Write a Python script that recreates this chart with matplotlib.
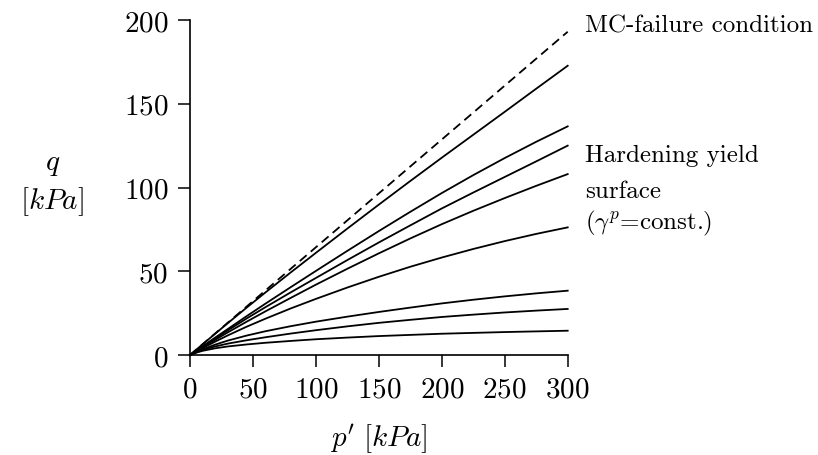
import matplotlib
matplotlib.use("Agg")
import matplotlib.pyplot as plt

plt.rcParams["font.family"] = ["cmr10", "DejaVu Sans"]
plt.rcParams["mathtext.fontset"] = "cm"
plt.rcParams["axes.unicode_minus"] = False
plt.rcParams["axes.formatter.use_mathtext"] = True

p_vals = [0, 5, 10, 20, 30, 45, 60, 80, 100, 125, 150, 175, 200, 225, 250, 275, 300]

# hardening yield surfaces, top to bottom (q in kPa)
q_curves = [
    [0, 3.2, 6.4, 12.7, 19.0, 28.3, 37.4, 49.3, 61.0, 75.5, 89.8, 103.9, 117.8, 131.5, 145.2, 159.0, 172.7],
    [0, 2.6, 5.2, 10.4, 15.5, 23.2, 30.7, 40.5, 50.2, 62.2, 74.0, 85.5, 96.7, 107.4, 117.6, 127.3, 136.5],
    [0, 2.5, 5.0, 9.9, 14.7, 21.8, 28.6, 37.4, 46.0, 56.7, 67.2, 77.4, 87.5, 97.0, 106.3, 115.6, 125.0],
    [0, 2.3, 4.6, 9.1, 13.5, 19.9, 26.1, 34.1, 42.0, 51.5, 60.7, 69.6, 78.1, 86.1, 93.7, 101.0, 108.0],
    [0, 2.1, 4.1, 8.0, 11.7, 16.9, 21.7, 27.8, 33.5, 40.3, 46.7, 52.7, 58.2, 63.3, 68.0, 72.3, 76.2],
    [0, 1.8, 3.4, 6.2, 8.6, 11.6, 14.2, 17.2, 19.9, 22.9, 25.7, 28.3, 30.8, 33.0, 35.0, 36.8, 38.4],
    [0, 1.6, 3.0, 5.1, 6.8, 8.8, 10.6, 12.8, 14.8, 17.1, 19.2, 21.0, 22.7, 24.1, 25.4, 26.5, 27.5],
    [0, 1.4, 2.5, 4.0, 5.1, 6.3, 7.3, 8.4, 9.4, 10.4, 11.3, 12.0, 12.7, 13.2, 13.7, 14.1, 14.5],
]

# Mohr-Coulomb failure line
p_mc = [0, 300]
q_mc = [0, 193]

fig = plt.figure(figsize=(8.18, 4.56), dpi=100)
ax = fig.add_axes([0.2323, 0.2193, 0.4617, 0.7346])

ax.plot(p_mc, q_mc, color="black", lw=1.3, dashes=(5, 3), clip_on=False)
for q in q_curves:
    ax.plot(p_vals, q, color="black", lw=1.3, clip_on=False)

ax.set_xlim(0, 300)
ax.set_ylim(0, 200)
ax.set_xticks([0, 50, 100, 150, 200, 250, 300])
ax.set_yticks([0, 50, 100, 150, 200])

for s in ["top", "right"]:
    ax.spines[s].set_visible(False)
for s in ["left", "bottom"]:
    ax.spines[s].set_linewidth(1.2)
ax.tick_params(direction="out", length=8.5, width=1.1, labelsize=21, pad=7)

ax.set_xlabel(r"$p'\ [kPa]$", fontsize=21, va="center")
ax.xaxis.set_label_coords(0.5, -0.248)
ax.set_ylabel("$q$\n$[kPa]$", fontsize=21, rotation=0, va="center", ha="center",
              linespacing=1.3)
ax.yaxis.set_label_coords(-0.365, 0.51)

ax.text(1.047, 0.985, "MC-failure condition", transform=ax.transAxes,
        fontsize=18, va="center", ha="left")
ax.text(1.047, 0.597, "Hardening yield", transform=ax.transAxes,
        fontsize=18, va="center", ha="left")
ax.text(1.047, 0.49, "surface", transform=ax.transAxes,
        fontsize=18, va="center", ha="left")
ax.text(1.047, 0.396, r"($\gamma^p$=const.)", transform=ax.transAxes,
        fontsize=18, va="center", ha="left")

fig.savefig("out.png", dpi=100)
